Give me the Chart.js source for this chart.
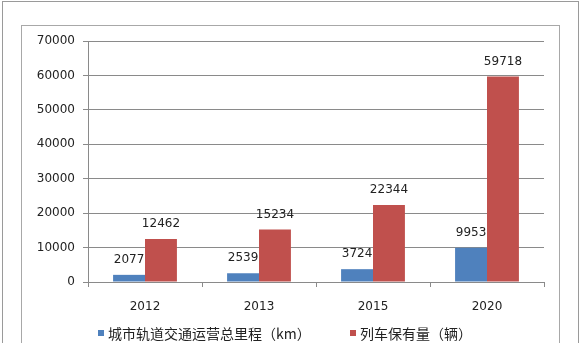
<!DOCTYPE html>
<html>
<head>
<meta charset="utf-8">
<script src="https://cdn.jsdelivr.net/npm/chart.js@4/dist/chart.umd.min.js"></script>
<style>
  html, body { margin: 0; padding: 0; background: #fff; }
  #wrap { position: relative; width: 586px; height: 343px; overflow: hidden; }
  .frame { position: absolute; border: 1px solid #9a9a9a; }
  #outer { left: 2px; top: 1px; width: 575px; height: 360px; }
  #inner { left: 21px; top: 25px; width: 537px; height: 340px; border-color: #a8a8a8; }
  #chart { position: absolute; left: 0; top: 0; }
  .leg { position: absolute; top: 324px; font: 14px "Noto Sans CJK SC", sans-serif; color: #222; white-space: nowrap; line-height: 18px; }
  .leg i { display: inline-block; width: 6px; height: 6px; margin-right: 4px; vertical-align: 3px; }
</style>
</head>
<body>
<div id="wrap">
  <div class="frame" id="outer"></div>
  <div class="frame" id="inner"></div>
  <canvas id="chart" width="586" height="343"></canvas>
  <div class="leg" style="left:98px"><i style="background:#4f81bd"></i>城市轨道交通运营总里程（km）</div>
  <div class="leg" style="left:350px"><i style="background:#c0504d"></i>列车保有量（辆）</div>
</div>
<script>
const years = ['2012', '2013', '2015', '2020'];
const mileage = [2077, 2539, 3724, 9953];
const trains = [12462, 15234, 22344, 59718];
const seriesNames = ['城市轨道交通运营总里程（km）', '列车保有量（辆）'];

// value labels above each bar
const barLabels = {
    id: 'barLabels',
    afterDatasetsDraw(chart) {
        const ctx = chart.ctx;
        ctx.save();
        ctx.font = '12px "DejaVu Sans"';
        ctx.fillStyle = '#222';
        ctx.textAlign = 'center';
        ctx.textBaseline = 'middle';
        chart.data.datasets.forEach((ds, i) => {
            chart.getDatasetMeta(i).data.forEach((bar, j) => {
                ctx.fillText(ds.data[j], bar.x, bar.y - 15);
            });
        });
        ctx.restore();
    }
};

new Chart(document.getElementById('chart'), {
    type: 'bar',
    data: {
        labels: years,
        datasets: [
            { label: seriesNames[0], data: mileage, backgroundColor: '#4f81bd' },
            { label: seriesNames[1], data: trains, backgroundColor: '#c0504d' }
        ]
    },
    options: {
        responsive: false,
        animation: false,
        events: [],
        layout: { padding: { left: 0, right: 42, top: 41, bottom: 25 } },
        datasets: { bar: { categoryPercentage: 0.56, barPercentage: 1 } },
        plugins: { legend: { display: false }, tooltip: { enabled: false } },
        scales: {
            x: {
                afterFit: (s) => { s.height = 36; },
                grid: { offset: true, drawOnChartArea: false, drawTicks: true, tickLength: 5, color: '#8a8a8a' },
                border: { color: '#8a8a8a' },
                ticks: { padding: 13, color: '#222', font: { family: 'DejaVu Sans', size: 12 } }
            },
            y: {
                min: 0,
                max: 70000,
                afterFit: (s) => { s.width = 88; },
                grid: { color: '#8a8a8a', tickLength: 5 },
                border: { color: '#8a8a8a' },
                ticks: {
                    stepSize: 10000, padding: 8, color: '#222',
                    font: { family: 'DejaVu Sans', size: 12 },
                    callback: (v) => String(v)
                }
            }
        }
    },
    plugins: [barLabels]
});
</script>
</body>
</html>
